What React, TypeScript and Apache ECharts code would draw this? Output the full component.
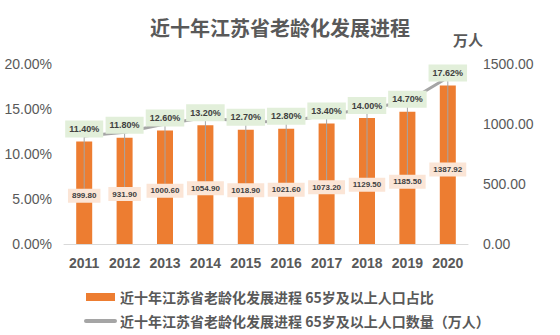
import React, { useEffect, useRef } from "react";
import * as echarts from "echarts";

const years = ["2011", "2012", "2013", "2014", "2015", "2016", "2017", "2018", "2019", "2020"];
const sharePct = [11.4, 11.8, 12.6, 13.2, 12.7, 12.8, 13.4, 14.0, 14.7, 17.62];
const population = [899.8, 931.9, 1000.6, 1054.9, 1018.9, 1021.6, 1073.2, 1129.5, 1185.5, 1387.92];
const leftTicks = { min: 0, max: 20, interval: 5 };
const rightTicks = { min: 0, max: 1500, interval: 500 };

const titleText = "近十年江苏省老龄化发展进程";
const barName = "近十年江苏省老龄化发展进程 65岁及以上人口占比";
const lineName = "近十年江苏省老龄化发展进程 65岁及以上人口数量（万人）";

const W = 560;
const H = 335;
const GRID = { left: 64, right: 92, top: 64, bottom: 91 };
const PLOT_H = H - GRID.top - GRID.bottom;
const PLOT_BOTTOM = H - GRID.bottom;
const CJK = '"Noto Sans CJK SC", "Liberation Sans", sans-serif';
const NUM = '"Liberation Sans", Arial, sans-serif';

export default function App() {
  const ref = useRef<HTMLDivElement>(null);
  useEffect(() => {
    if (!ref.current) return;
    const chart = echarts.init(ref.current, null, { renderer: "svg" });
    chart.setOption({
      animation: false,
      backgroundColor: "#ffffff",
      title: {
        text: titleText,
        left: "center",
        top: 12,
        textStyle: { fontSize: 20, fontWeight: "bold", color: "#595959", fontFamily: CJK },
      },
      legend: {
        orient: "vertical",
        left: 79,
        top: 285,
        height: 60,
        itemWidth: 29,
        itemHeight: 8,
        itemGap: 10,
        textStyle: { fontSize: 14, fontWeight: "bold", color: "#595959", fontFamily: CJK },
        data: [
          { name: barName, icon: "rect" },
          { name: lineName, lineStyle: { width: 4, color: "#A5A5A5", cap: "round" } },
        ],
      },
      grid: { ...GRID },
      xAxis: {
        type: "category",
        data: years,
        axisTick: { show: false },
        axisLine: { lineStyle: { color: "#D9D9D9", width: 1 } },
        axisLabel: { color: "#595959", fontSize: 14, fontWeight: "bold", margin: 12, fontFamily: NUM, interval: 0 },
      },
      yAxis: [
        {
          type: "value",
          ...leftTicks,
          splitLine: { show: false },
          axisLine: { show: false },
          axisTick: { show: false },
          axisLabel: {
            color: "#595959",
            fontSize: 14,
            margin: 12,
            fontFamily: NUM,
            formatter: (v: number) => v.toFixed(2) + "%",
          },
        },
        {
          type: "value",
          ...rightTicks,
          name: "万人",
          nameLocation: "end",
          nameGap: 17,
          nameTextStyle: { color: "#595959", fontSize: 15, fontWeight: "bold", fontFamily: CJK, align: "center" },
          splitLine: { show: false },
          axisLine: { show: false },
          axisTick: { show: false },
          axisLabel: {
            color: "#595959",
            fontSize: 14,
            margin: 15,
            fontFamily: NUM,
            formatter: (v: number) => v.toFixed(2),
          },
        },
      ],
      series: [
        {
          name: barName,
          type: "bar",
          yAxisIndex: 0,
          data: sharePct,
          barWidth: 16,
          itemStyle: { color: "#ED7D31" },
          z: 2,
        },
        {
          name: lineName,
          type: "line",
          yAxisIndex: 1,
          data: population,
          symbol: "circle",
          symbolSize: 1,
          showSymbol: true,
          z: 3,
          itemStyle: { color: "rgba(0,0,0,0)" },
          lineStyle: { color: "#A5A5A5", width: 3 },
          label: {
            show: true,
            position: "bottom",
            formatter: (p: any) => p.value.toFixed(2),
            fontSize: 8,
            fontWeight: "bold",
            fontFamily: NUM,
            color: "#404040",
            backgroundColor: "#FBE5D6",
            padding: [3, 4, 3, 4],
          },
          labelLine: { show: true, lineStyle: { color: "#A5A5A5", width: 1 } },
          labelLayout: (p: any) => {
            const i = p.dataIndex;
            const y = PLOT_BOTTOM - (sharePct[i] / leftTicks.max) * PLOT_H * 0.47;
            return { x: p.rect.x + p.rect.width / 2, y, align: "center", verticalAlign: "middle" };
          },
        },
        {
          name: "pctLabels",
          type: "bar",
          yAxisIndex: 0,
          data: sharePct,
          barWidth: 16,
          barGap: "-100%",
          itemStyle: { color: "rgba(0,0,0,0)" },
          z: 10,
          silent: true,
          label: {
            show: true,
            position: "top",
            distance: 4,
            formatter: (p: any) => p.value.toFixed(2) + "%",
            fontSize: 9,
            fontWeight: "bold",
            fontFamily: NUM,
            color: "#404040",
            backgroundColor: "#E2EFDA",
            padding: [4, 4, 4, 4],
          },
        },
      ],
    });
    return () => chart.dispose();
  }, []);
  return (
    <div
      ref={ref}
      style={{ position: "fixed", left: 0, top: 0, width: W, height: H, background: "#fff" }}
    />
  );
}
